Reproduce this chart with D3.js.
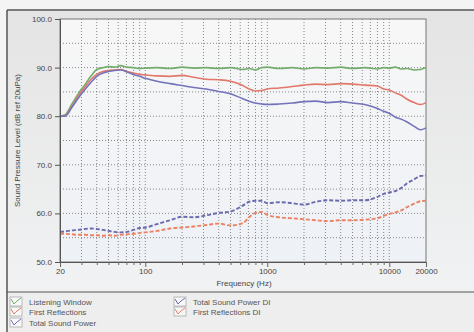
<!DOCTYPE html>
<html>
<head>
<meta charset="utf-8">
<script src="https://cdn.jsdelivr.net/npm/d3@7"></script>
<style>
  body { margin: 0; background: #fff; }
  svg { display: block; font-family: "Liberation Sans", Arial, sans-serif; }
</style>
</head>
<body>
<div id="chart"></div>
<script>
// frequencies (Hz) shared by every curve
const freqs = [20, 22, 25, 28, 32, 36, 40, 45, 50, 56, 63, 71, 80, 90, 100, 125, 160, 200, 250, 315, 400, 500, 630, 710, 800, 900, 1000, 1250, 1600, 2000, 2500, 3150, 4000, 5000, 6300, 8000, 9000, 10000, 11200, 12500, 14000, 16000, 18000, 20000]

const listeningWindow = [80, 80.3, 82.5, 84.5, 86.5, 88.3, 89.6, 90, 90.2, 90.1, 90.4, 90.1, 90, 89.8, 89.9, 90, 89.8, 90.1, 89.9, 90, 89.8, 90, 89.6, 89.8, 89.5, 90, 90.1, 89.8, 90, 89.7, 90, 89.9, 90.1, 89.8, 90, 89.7, 90, 89.9, 90.1, 89.7, 89.8, 89.5, 89.6, 90]
const firstReflections = [80, 80.1, 82, 84, 86, 87.6, 88.6, 89.2, 89.4, 89.5, 89.6, 89.2, 88.9, 88.6, 88.5, 88.3, 88.2, 88.4, 88, 87.6, 87.5, 87.2, 86.3, 85.6, 85.2, 85.3, 85.6, 85.8, 86.1, 86.4, 86.6, 86.5, 86.7, 86.6, 86.4, 86.2, 85.6, 85.4, 84.8, 84.3, 83.5, 82.8, 82.4, 82.8]
const totalSoundPower = [80, 80, 81.8, 83.6, 85.5, 87, 88.2, 88.9, 89.2, 89.4, 89.5, 89.1, 88.6, 88.2, 87.8, 87.2, 86.7, 86.3, 85.9, 85.6, 85.1, 84.6, 83.6, 83.1, 82.7, 82.5, 82.4, 82.5, 82.7, 83, 83.1, 82.8, 83, 82.7, 82.4, 81.6, 81, 80.6, 79.8, 79.4, 78.8, 77.9, 77.2, 77.6]
const totalSoundPowerDI = [56.2, 56.3, 56.5, 56.6, 56.8, 56.9, 56.8, 56.6, 56.4, 56.2, 56.1, 56.2, 56.6, 57, 57.1, 57.8, 58.6, 59.3, 59.2, 59.6, 60.1, 60.4, 61.6, 62.4, 62.6, 62.6, 62.1, 62.3, 62.1, 61.8, 62.4, 62.7, 62.6, 62.7, 62.7, 63.4, 64, 64.3, 64.6, 65.2, 66.2, 67, 67.7, 67.8]
const firstReflectionsDI = [55.8, 55.8, 55.7, 55.6, 55.6, 55.5, 55.5, 55.4, 55.5, 55.4, 55.6, 55.7, 55.8, 56, 56.1, 56.4, 56.9, 57.1, 57.3, 57.6, 57.9, 57.5, 58, 59.2, 60.1, 60.3, 59.7, 59.2, 59, 58.8, 58.6, 58.4, 58.6, 58.6, 58.7, 59, 59.5, 59.9, 60.2, 60.6, 61.3, 62, 62.5, 62.6]

const xTicks = [20, 100, 1000, 10000, 20000]
const yTicks = [50, 60, 70, 80, 90, 100]

const series = [
    { name: "Listening Window", values: listeningWindow, color: "#72ad6c", dash: null },
    { name: "First Reflections", values: firstReflections, color: "#e2786a", dash: null },
    { name: "Total Sound Power", values: totalSoundPower, color: "#7373bb", dash: null },
    { name: "Total Sound Power DI", values: totalSoundPowerDI, color: "#6a6aae", dash: "4,2" },
    { name: "First Reflections DI", values: firstReflectionsDI, color: "#ec8262", dash: "4,2" }
]

const width = 474, height = 332
const plot = { left: 60, right: 426, top: 19, bottom: 262 }

const svg = d3.select("#chart").append("svg")
    .attr("width", width)
    .attr("height", height)

const defs = svg.append("defs")
const bgGrad = defs.append("linearGradient").attr("id", "bg").attr("x1", 0).attr("y1", 0).attr("x2", 0).attr("y2", 1)
bgGrad.append("stop").attr("offset", "0%").attr("stop-color", "#e4e4e4")
bgGrad.append("stop").attr("offset", "100%").attr("stop-color", "#f1f2f3")
const plotGrad = defs.append("linearGradient").attr("id", "plotbg").attr("x1", 0).attr("y1", 0).attr("x2", 0).attr("y2", 1)
plotGrad.append("stop").attr("offset", "0%").attr("stop-color", "#f7f7f7")
plotGrad.append("stop").attr("offset", "100%").attr("stop-color", "#eef1f6")

// background + frame
svg.append("rect").attr("width", width).attr("height", height).attr("fill", "#f4f4f4")
svg.append("rect").attr("x", 7).attr("y", 10).attr("width", width - 7).attr("height", 282).attr("fill", "url(#bg)")
svg.append("rect").attr("x", 7).attr("y", 292).attr("width", width - 7).attr("height", 40).attr("fill", "#eeeeee")

const x = d3.scaleLog().domain([20, 20000]).range([plot.left, plot.right])
const y = d3.scaleLinear().domain([50, 100]).range([plot.bottom, plot.top])

svg.append("rect")
    .attr("x", plot.left).attr("y", plot.top)
    .attr("width", plot.right - plot.left).attr("height", plot.bottom - plot.top)
    .attr("fill", "url(#plotbg)")

// grid
const minorFreqs = x.ticks().filter(f => f > 20 && f < 20000)
svg.append("g").selectAll("line").data(minorFreqs).join("line")
    .attr("x1", d => x(d)).attr("x2", d => x(d))
    .attr("y1", plot.top).attr("y2", plot.bottom)
    .attr("stroke", "#7a7a7a").attr("stroke-width", 0.9).attr("stroke-dasharray", "1,2")

const yGrid = d3.range(55, 100, 5)
svg.append("g").selectAll("line").data(yGrid).join("line")
    .attr("x1", plot.left).attr("x2", plot.right)
    .attr("y1", d => y(d)).attr("y2", d => y(d))
    .attr("stroke", "#7a7a7a").attr("stroke-width", 0.9).attr("stroke-dasharray", "1,2")

// plot frame
svg.append("rect")
    .attr("x", plot.left).attr("y", plot.top)
    .attr("width", plot.right - plot.left).attr("height", plot.bottom - plot.top)
    .attr("fill", "none").attr("stroke", "#777").attr("stroke-width", 1)

// curves
const line = d3.line()
    .x((d, i) => x(freqs[i]))
    .y(d => y(d))
    .curve(d3.curveMonotoneX)

series.forEach(s => {
    svg.append("path")
        .datum(s.values)
        .attr("d", line)
        .attr("fill", "none")
        .attr("stroke", s.color)
        .attr("stroke-width", s.dash ? 1.9 : 1.6)
        .attr("stroke-dasharray", s.dash)
})

// axes
const yAxis = d3.axisLeft(y).tickValues(yTicks).tickFormat(d3.format(".1f")).tickSize(5).tickPadding(3)
const gy = svg.append("g").attr("transform", `translate(${plot.left},0)`).call(yAxis)
gy.select(".domain").attr("stroke", "#555")
gy.selectAll(".tick line").attr("stroke", "#555")
gy.selectAll("text").attr("font-size", 8).attr("fill", "#444")

const xAxis = d3.axisBottom(x).tickValues(x.ticks()).tickFormat(d => xTicks.includes(d) ? d : "").tickSize(3).tickPadding(3)
const gx = svg.append("g").attr("transform", `translate(0,${plot.bottom})`).call(xAxis)
gx.select(".domain").attr("stroke", "#555")
gx.selectAll(".tick line").attr("stroke", "#666").attr("y2", d => xTicks.includes(d) ? 5 : 3)
gx.selectAll("text").attr("font-size", 8).attr("fill", "#444")

svg.append("text")
    .attr("x", (plot.left + plot.right) / 2 + 1).attr("y", 286)
    .attr("text-anchor", "middle").attr("font-size", 8).attr("fill", "#444")
    .text("Frequency (Hz)")

svg.append("text")
    .attr("transform", `translate(20,${(plot.top + plot.bottom) / 2}) rotate(-90)`)
    .attr("text-anchor", "middle").attr("font-size", 8).attr("fill", "#444")
    .text("Sound Pressure Level (dB ref 20uPa)")

// outer border lines
svg.append("line").attr("x1", 7).attr("x2", width).attr("y1", 10).attr("y2", 10).attr("stroke", "#555").attr("stroke-width", 1.5)
svg.append("line").attr("x1", 7).attr("x2", 7).attr("y1", 10).attr("y2", height).attr("stroke", "#555").attr("stroke-width", 1.5)
svg.append("line").attr("x1", 7).attr("x2", width).attr("y1", 292).attr("y2", 292).attr("stroke", "#555").attr("stroke-width", 1.2)

// legend
const legendPos = [[10, 303], [10, 313], [10, 324], [174, 303], [174, 313]]
series.forEach((s, i) => {
    const [lx, ly] = legendPos[i]
    const g = svg.append("g").attr("transform", `translate(${lx},${ly})`)
    g.append("rect").attr("x", 0).attr("y", -6).attr("width", 12).attr("height", 9)
        .attr("fill", "#f8f8f8").attr("stroke", "#aaa").attr("stroke-width", 0.8)
    g.append("path").attr("d", "M1,-4 L4,1 L7,-2 L11,-5")
        .attr("fill", "none").attr("stroke", s.color).attr("stroke-width", 1)
    g.append("text").attr("x", 19).attr("y", 2)
        .attr("font-size", 8).attr("fill", "#555")
        .text(s.name)
})
</script>
</body>
</html>
